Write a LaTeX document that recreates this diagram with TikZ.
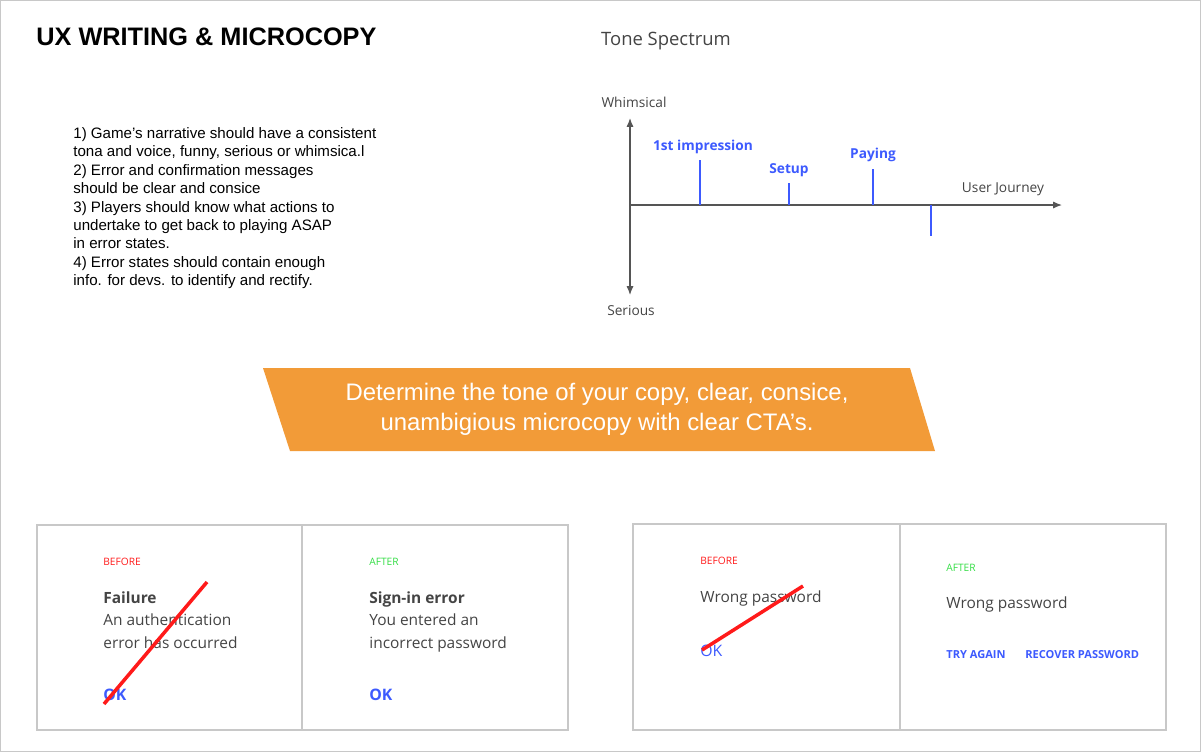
\documentclass[tikz,border=0pt]{standalone}
\usepackage{fontspec}
\setmainfont{Liberation Sans}
\newfontfamily\uifont{Open Sans}
\usetikzlibrary{arrows.meta}
\definecolor{tickblue}{HTML}{3D5AFE}
\definecolor{bannerorange}{HTML}{F29B38}
\definecolor{axisgray}{HTML}{555555}
\definecolor{textgray}{HTML}{444444}
\definecolor{framegray}{HTML}{C8C8C8}
\definecolor{beforered}{HTML}{FF1A1A}
\definecolor{aftergreen}{HTML}{33DD44}
\tikzset{
  lbl/.style={inner sep=0pt, text=textgray, font=\uifont\fontsize{7.8}{9}\selectfont},
  tag/.style={inner sep=0pt, anchor=west, font=\uifont\fontsize{5.8}{6}\selectfont},
  cta/.style={inner sep=0pt, anchor=west, text=tickblue, font=\uifont\fontsize{6.3}{7}\selectfont\bfseries},
  msg/.style={inner sep=0pt, anchor=north west, align=left, text=textgray, font=\uifont\fontsize{8.8}{13}\selectfont},
  strike/.style={beforered, line width=2pt},
  card/.style={draw=framegray, line width=0.6pt}
}
\begin{document}
\begin{tikzpicture}[x=0.02cm, y=-0.02cm]
  % Frame
  \useasboundingbox (0,0) rectangle (1201,752);
  \draw[framegray, line width=0.8pt] (0.5,0.5) rectangle (1200.5,751.5);

  % Title and notes
  \node[anchor=west, inner sep=0pt, font=\bfseries\fontsize{14.4}{16}\selectfont] (title) at (36,37) {UX WRITING \& MICROCOPY};
  \node[anchor=north west, inner sep=0pt, align=left, font=\fontsize{8.6}{10.5}\selectfont] (notes) at (73,127)
    {1) Game's narrative should have a consistent\\%
tona and voice, funny, serious or whimsica.l\\%
2) Error and confirmation messages\\%
should be clear and consice\\%
3) Players should know what actions to\\%
undertake to get back to playing ASAP\\%
in error states.\\%
4) Error states should contain enough\\%
info. for devs. to identify and rectify.};

  % Tone spectrum
  \node[lbl, font=\uifont\fontsize{10.5}{12}\selectfont, text=axisgray!80!black] (spec) at (666,41) {Tone Spectrum};
  \coordinate (o) at (630,205);
  \coordinate (top) at (630,118);
  \coordinate (bot) at (630,295);
  \coordinate (right) at (1062,205);
  \draw[axisgray, line width=0.7pt, -{Latex[length=5pt,width=4pt]}] (o) -- (top);
  \draw[axisgray, line width=0.7pt, -{Latex[length=5pt,width=4pt]}] (o) -- (bot);
  \draw[axisgray, line width=0.7pt, -{Latex[length=5pt,width=4pt]}] (o) -- (right);
  \node[lbl] (whim) at (634,102) {Whimsical};
  \node[lbl] (ser) at (631,311) {Serious};
  \node[lbl] (journey) at (1003,189) {User Journey};
  \draw[tickblue, line width=1.2pt] (700,205) -- (700,160);
  \draw[tickblue, line width=1.2pt] (789,205) -- (789,183);
  \draw[tickblue, line width=1.2pt] (873,205) -- (873,169);
  \draw[tickblue, line width=1.2pt] (931,205) -- (931,236);
  \node[lbl, text=tickblue, font=\uifont\bfseries\fontsize{7.8}{9}\selectfont] (first) at (703,147) {1st impression};
  \node[lbl, text=tickblue, font=\uifont\bfseries\fontsize{7.8}{9}\selectfont] (setup) at (789,170) {Setup};
  \node[lbl, text=tickblue, font=\uifont\bfseries\fontsize{7.8}{9}\selectfont] (pay) at (873,155) {Paying};

  % Banner
  \fill[bannerorange] (263,368) -- (910,368) -- (935,451) -- (290,451) -- cycle;
  \node[text=white, align=center, inner sep=0pt, font=\fontsize{13.6}{17}\selectfont] (banner) at (597,409)
    {Determine the tone of your copy, clear, consice,\\ unambigious microcopy with clear CTA's.};

  % Cards
  \draw[card] (37,525) rectangle (568,730);
  \draw[card] (302,525) -- (302,730);
  \draw[card] (633,524) rectangle (1166,730);
  \draw[card] (900,524) -- (900,730);

  % Card 1
  \node[tag, text=beforered] (b1) at (103,562) {BEFORE};
  \node[msg] (m1) at (103,591) {\textbf{Failure}\\An authentication\\error has occurred};
  \node[cta, font=\uifont\fontsize{9}{10}\selectfont\bfseries] (ok1) at (103,695) {OK};
  \draw[strike] (104,704) -- (207,582);
  \node[tag, text=aftergreen] (a1) at (369,562) {AFTER};
  \node[msg] (m2) at (369,591) {\textbf{Sign-in error}\\You entered an\\incorrect password};
  \node[cta, font=\uifont\fontsize{9}{10}\selectfont\bfseries] (ok2) at (369,695) {OK};

  % Card 2
  \node[tag, text=beforered] (b2) at (700,561) {BEFORE};
  \node[msg] (m3) at (700,590) {Wrong password};
  \node[cta, font=\uifont\fontsize{9}{10}\selectfont] (ok3) at (700,651) {OK};
  \draw[strike] (702,650) -- (803,586);
  \node[tag, text=aftergreen] (a2) at (946,568) {AFTER};
  \node[msg] (m4) at (946,596) {Wrong password};
  \node[cta] (try) at (946,655) {TRY AGAIN};
  \node[cta] (rec) at (1025,655) {RECOVER PASSWORD};
\end{tikzpicture}
\end{document}
